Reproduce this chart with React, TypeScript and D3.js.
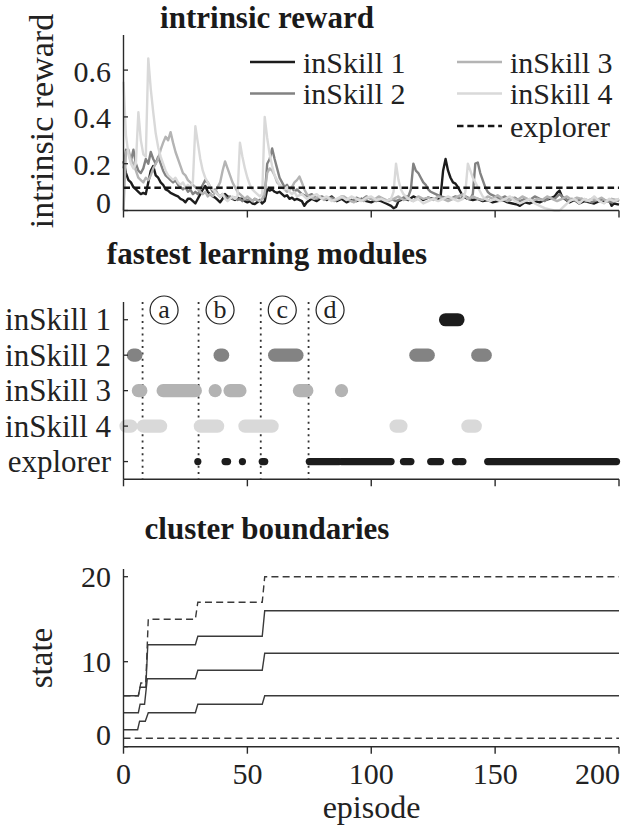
import React from 'react';
import * as d3 from 'd3';

// ---------- data ----------
const episodeTicks = [0, 50, 100, 150, 200];
const rewardTicks = [0, 0.2, 0.4, 0.6];
const stateTicks = [0, 10, 20];
const modules = ['inSkill 1', 'inSkill 2', 'inSkill 3', 'inSkill 4', 'explorer'];
const seriesNames = ['inSkill 1', 'inSkill 2', 'inSkill 3', 'inSkill 4'];
const seriesColors = ['#1c1c1c', '#828282', '#b4b4b4', '#d9d9d9'];
const explorerColor = '#161616';

const explorerReward: number[][] = [[0, 0.097], [200, 0.097]];

const inSkill1Reward: number[][] = [
  [0,0.21],[1,0.16],[2,0.13],[3,0.12],[4,0.1],[5,0.09],[6,0.08],[7,0.07],[8,0.075],[9,0.07],[10,0.12],[11,0.17],[12,0.19],[13,0.15],[14,0.14],[15,0.12],[16,0.11],[17,0.09],[18,0.085],[19,0.075],[20,0.07],[21,0.065],[22,0.06],[23,0.05],[24,0.045],[25,0.035],[26,0.05],[27,0.05],[28,0.04],[29,0.03],[30,0.05],[31,0.07],[32,0.09],[33,0.105],[34,0.08],[35,0.07],[36,0.06],[37,0.055],[38,0.045],[39,0.035],[40,0.05],[41,0.07],[42,0.06],[43,0.055],[44,0.05],[45,0.045],[46,0.055],[47,0.05],[48,0.05],[49,0.04],[50,0.035],[51,0.04],[52,0.03],[53,0.028],[54,0.035],[55,0.045],[56,0.03],[57,0.04],[58,0.09],[59,0.085],[60,0.09],[61,0.08],[62,0.075],[63,0.08],[64,0.07],[65,0.06],[66,0.065],[67,0.05],[68,0.055],[69,0.045],[70,0.05],[72,0.04],[73,0.02],[74,0.035],[76,0.05],[78,0.04],[80,0.055],[82,0.045],[84,0.06],[86,0.04],[88,0.05],[90,0.035],[92,0.045],[94,0.04],[96,0.05],[98,0.04],[100,0.035],[102,0.045],[104,0.04],[106,0.03],[108,0.02],[109,0.01],[110,0.015],[111,0.04],[113,0.05],[115,0.045],[117,0.06],[119,0.05],[121,0.045],[123,0.055],[125,0.05],[127,0.045],[128,0.06],[129,0.17],[130,0.22],[131,0.17],[132,0.14],[133,0.12],[134,0.115],[135,0.1],[136,0.08],[137,0.06],[139,0.05],[141,0.045],[143,0.05],[145,0.04],[147,0.045],[149,0.035],[151,0.04],[153,0.045],[155,0.035],[157,0.03],[159,0.025],[160,0.02],[162,0.035],[164,0.03],[166,0.04],[168,0.035],[170,0.045],[172,0.05],[174,0.06],[175,0.075],[176,0.085],[177,0.06],[178,0.05],[180,0.035],[182,0.045],[184,0.03],[186,0.04],[188,0.035],[190,0.03],[192,0.04],[194,0.035],[196,0.045],[197,0.02],[198,0.03],[200,0.025]
];

const inSkill2Reward: number[][] = [
  [0,0.18],[1,0.26],[2,0.25],[3,0.21],[4,0.26],[5,0.2],[6,0.17],[7,0.16],[8,0.18],[9,0.22],[10,0.2],[11,0.25],[12,0.22],[13,0.2],[14,0.23],[15,0.2],[16,0.17],[17,0.15],[18,0.14],[19,0.13],[20,0.12],[21,0.13],[22,0.11],[23,0.1],[24,0.09],[25,0.1],[26,0.08],[27,0.09],[28,0.07],[29,0.08],[30,0.07],[31,0.09],[32,0.11],[33,0.13],[34,0.12],[35,0.1],[36,0.08],[37,0.09],[38,0.07],[39,0.06],[40,0.07],[41,0.06],[42,0.05],[43,0.06],[44,0.05],[45,0.055],[46,0.045],[47,0.05],[48,0.04],[49,0.05],[50,0.045],[51,0.05],[52,0.04],[53,0.05],[54,0.045],[55,0.04],[56,0.05],[57,0.06],[58,0.2],[59,0.22],[60,0.265],[61,0.22],[62,0.18],[63,0.14],[64,0.12],[65,0.1],[66,0.11],[67,0.09],[68,0.1],[69,0.08],[70,0.09],[72,0.07],[74,0.06],[76,0.07],[78,0.05],[80,0.06],[82,0.05],[84,0.055],[86,0.045],[88,0.06],[90,0.05],[92,0.04],[94,0.055],[96,0.045],[98,0.06],[100,0.05],[102,0.04],[104,0.05],[106,0.04],[108,0.05],[110,0.04],[112,0.05],[114,0.06],[115,0.06],[116,0.09],[117,0.2],[118,0.17],[119,0.16],[120,0.14],[121,0.12],[122,0.11],[123,0.09],[124,0.08],[126,0.07],[128,0.06],[130,0.055],[132,0.05],[134,0.06],[136,0.05],[138,0.06],[140,0.05],[141,0.07],[142,0.2],[143,0.205],[144,0.16],[145,0.13],[146,0.1],[147,0.08],[148,0.07],[150,0.06],[152,0.05],[154,0.06],[156,0.045],[158,0.055],[160,0.04],[162,0.05],[164,0.045],[166,0.06],[168,0.05],[170,0.04],[172,0.055],[174,0.05],[176,0.07],[177,0.06],[179,0.045],[181,0.05],[183,0.04],[185,0.05],[187,0.045],[189,0.035],[191,0.045],[193,0.05],[195,0.04],[197,0.035],[199,0.045],[200,0.04]
];

const inSkill3Reward: number[][] = [
  [0,0.0],[1,0.25],[2,0.26],[3,0.22],[4,0.2],[5,0.17],[6,0.14],[7,0.13],[8,0.12],[9,0.14],[10,0.13],[11,0.15],[12,0.18],[13,0.2],[14,0.22],[15,0.26],[16,0.29],[17,0.315],[18,0.3],[19,0.335],[20,0.29],[21,0.25],[22,0.22],[23,0.19],[24,0.16],[25,0.15],[26,0.13],[27,0.12],[28,0.11],[29,0.1],[30,0.09],[31,0.08],[32,0.07],[33,0.08],[34,0.06],[35,0.07],[36,0.06],[37,0.08],[38,0.1],[39,0.12],[40,0.17],[41,0.21],[42,0.18],[43,0.15],[44,0.12],[45,0.1],[46,0.08],[47,0.07],[48,0.06],[49,0.05],[50,0.06],[51,0.05],[52,0.04],[53,0.05],[54,0.045],[55,0.04],[56,0.05],[57,0.08],[58,0.16],[59,0.18],[60,0.17],[61,0.15],[62,0.12],[63,0.11],[64,0.1],[65,0.09],[66,0.08],[67,0.09],[68,0.1],[69,0.12],[70,0.13],[71,0.145],[72,0.12],[73,0.09],[74,0.07],[75,0.06],[77,0.05],[79,0.06],[81,0.045],[83,0.055],[85,0.04],[87,0.05],[89,0.06],[91,0.045],[93,0.035],[95,0.05],[97,0.04],[99,0.055],[101,0.045],[103,0.06],[105,0.05],[107,0.04],[109,0.05],[111,0.06],[113,0.045],[115,0.05],[117,0.04],[119,0.06],[121,0.05],[123,0.055],[125,0.045],[127,0.06],[129,0.05],[131,0.04],[133,0.05],[135,0.06],[137,0.07],[139,0.05],[141,0.06],[143,0.05],[145,0.045],[147,0.06],[149,0.05],[151,0.065],[153,0.05],[155,0.04],[157,0.055],[159,0.045],[161,0.06],[163,0.05],[165,0.04],[167,0.05],[169,0.045],[171,0.06],[173,0.05],[175,0.04],[177,0.05],[179,0.06],[181,0.045],[183,0.055],[185,0.05],[187,0.04],[189,0.05],[191,0.045],[193,0.055],[195,0.04],[197,0.05],[199,0.045],[200,0.05]
];

const inSkill4Reward: number[][] = [
  [0,0.55],[1,0.32],[2,0.24],[3,0.2],[4,0.18],[5,0.2],[6,0.42],[7,0.3],[8,0.24],[9,0.23],[10,0.65],[11,0.52],[12,0.42],[13,0.33],[14,0.27],[15,0.23],[16,0.2],[17,0.17],[18,0.15],[19,0.14],[20,0.13],[21,0.14],[22,0.12],[23,0.11],[24,0.12],[25,0.1],[26,0.11],[27,0.1],[28,0.12],[29,0.36],[30,0.29],[31,0.22],[32,0.17],[33,0.14],[34,0.12],[35,0.1],[36,0.09],[37,0.08],[38,0.07],[39,0.06],[40,0.07],[41,0.05],[42,0.04],[43,0.05],[44,0.06],[45,0.05],[46,0.06],[47,0.29],[48,0.23],[49,0.18],[50,0.14],[51,0.11],[52,0.09],[53,0.08],[54,0.07],[55,0.06],[56,0.07],[57,0.4],[58,0.31],[59,0.24],[60,0.19],[61,0.15],[62,0.13],[63,0.11],[64,0.1],[65,0.09],[66,0.1],[67,0.08],[68,0.07],[69,0.08],[70,0.06],[72,0.07],[74,0.05],[76,0.06],[78,0.07],[80,0.05],[82,0.06],[84,0.04],[86,0.05],[88,0.06],[90,0.045],[92,0.06],[94,0.05],[96,0.04],[98,0.055],[100,0.06],[102,0.045],[104,0.05],[106,0.04],[108,0.05],[109,0.08],[110,0.2],[111,0.13],[112,0.09],[113,0.07],[115,0.05],[117,0.04],[119,0.05],[121,0.03],[123,0.04],[125,0.05],[127,0.04],[129,0.05],[131,0.06],[133,0.05],[135,0.04],[137,0.05],[138,0.08],[139,0.2],[140,0.17],[141,0.14],[142,0.12],[143,0.1],[144,0.08],[145,0.06],[146,0.05],[148,0.04],[150,0.05],[152,0.04],[154,0.05],[156,0.06],[158,0.04],[160,0.03],[162,0.04],[164,0.05],[166,0.03],[168,0.02],[170,0.01],[172,0.005],[174,0.0],[176,0.0],[178,0.02],[180,0.04],[182,0.05],[184,0.03],[186,0.05],[188,0.04],[190,0.06],[192,0.04],[194,0.03],[196,0.05],[198,0.04],[200,0.05]
];

const rewardSeries = [inSkill1Reward, inSkill2Reward, inSkill3Reward, inSkill4Reward];

// fastest-learning module: runs of episodes [start, end]
const inSkill1Runs: number[][] = [[130, 135]];
const inSkill2Runs: number[][] = [[4, 5], [39, 40], [61, 70], [118, 123], [143, 146]];
const inSkill3Runs: number[][] = [[6, 7], [16, 29], [37, 37], [43, 47], [71, 74], [88, 88]];
const inSkill4Runs: number[][] = [[1, 3], [8, 15], [31, 38], [49, 60], [110, 112], [139, 142]];
const explorerRuns: number[][] = [[30, 30], [41, 42], [48, 48], [56, 57], [75, 87], [88, 108], [113, 116], [124, 128], [134, 135], [136, 137], [147, 199]];
const moduleRuns = [inSkill1Runs, inSkill2Runs, inSkill3Runs, inSkill4Runs, explorerRuns];
const moduleColors = ['#1c1c1c', '#838383', '#b3b3b3', '#d9d9d9', '#1c1c1c'];

const phaseEpisodes = [7.7, 30.3, 55.4, 74.7];
const phaseLabels = ['a', 'b', 'c', 'd'];

// cluster boundaries [episode, state]
const boundaryUpper: number[][] = [[0,6],[6,6],[7,7.5],[9,7.5],[10,15],[29,15],[30,17],[56,17],[57,20],[200,20]];
const boundary3: number[][] = [[0,6],[6,6],[6.7,7],[9,7],[9.8,12],[29,12],[30,13],[56,13],[57,16],[200,16]];
const boundary2: number[][] = [[0,4],[6,4],[6.7,5],[8.5,5],[9.6,8],[29,8],[30,9],[56,9],[57,11],[200,11]];
const boundary1: number[][] = [[0,2],[5.7,2],[6.5,3],[8.8,3],[10,4],[29,4],[30,5],[56,5],[57,6],[200,6]];
const boundaryLower: number[][] = [[0,1],[200,1]];

// ---------- drawing ----------
const FONT = "'Liberation Serif', 'DejaVu Serif', serif";
const AX = '#2a2a2a';

const T = (props: any) => {
  const { style, ...rest } = props;
  return <text {...rest} style={{ fontFamily: FONT, ...(style || {}) }} />;
};

export default function App() {
  const x = d3.scaleLinear().domain([0, 200]).range([123.5, 619]);
  const yR = d3.scaleLinear().domain([0, 0.75]).range([210.5, 35]);
  const yM = d3.scalePoint<string>().domain(modules).range([302, 479.3]).padding(0.5);
  const yS = d3.scaleLinear().domain([0, 20]).range([746.7, 576.7]);
  const sTop = yS.invert(569);

  const rLine = d3.line<number[]>().x(d => x(d[0])).y(d => yR(d[1]));
  const sLine = d3.line<number[]>().x(d => x(d[0])).y(d => yS(d[1]));

  const xAxis = (y: number, labels: boolean) => (
    <g>
      <line x1={x(0)} x2={x(200)} y1={y} y2={y} stroke={AX} strokeWidth={1.4} />
      {episodeTicks.map((t, i) => {
        const last = i === episodeTicks.length - 1;
        return (
          <g key={t}>
            <line x1={x(t)} x2={x(t)} y1={y} y2={y + 7} stroke={AX} strokeWidth={1.4} />
            {labels && (
              <T x={last ? x(t) + 1 : x(t)} y={y + 37} textAnchor={last ? 'end' : 'middle'} fontSize={30} fill="#222">{t}</T>
            )}
          </g>
        );
      })}
    </g>
  );

  const yAxisLine = (y0: number, y1: number) => (
    <line x1={x(0)} x2={x(0)} y1={y0} y2={y1} stroke={AX} strokeWidth={1.4} />
  );

  const legendItems = [...seriesNames, 'explorer'];

  return (
    <svg width={624} height={828} style={{ position: 'absolute', left: 0, top: 0, background: '#fff' }}>
      <rect width={624} height={828} fill="#fff" />

      {/* ---------- panel 1: intrinsic reward ---------- */}
      <T x={267} y={28} textAnchor="middle" fontWeight="bold" fontSize={31} fill="#1a1a1a">intrinsic reward</T>
      <T transform={`translate(53,121) rotate(-90)`} textAnchor="middle" fontSize={34} fill="#222">intrinsic reward</T>
      {rewardSeries.map((s, i) => (
        <path key={i} d={rLine(s) || ''} fill="none" stroke={seriesColors[i]} strokeWidth={2.4} strokeLinejoin="round" />
      ))}
      <path d={rLine(explorerReward) || ''} fill="none" stroke={explorerColor} strokeWidth={2.4} strokeDasharray="6.5,3.8" />
      {yAxisLine(yR(0.75), yR(0))}
      {rewardTicks.map(t => (
        <g key={t}>
          <line x1={x(0)} x2={x(0) + 4.5} y1={yR(t)} y2={yR(t)} stroke={AX} strokeWidth={1.3} />
          <T x={111} y={yR(t) + (t === 0 ? 2.5 : 11.5)} textAnchor="end" fontSize={30} fill="#222">{t === 0 ? '0' : String(t)}</T>
        </g>
      ))}
      {xAxis(yR(0), false)}
      {legendItems.map((name, i) => {
        const col = i < 2 ? 0 : 1;
        const row = i < 2 ? i : i - 2;
        const lx = col === 0 ? 250 : 457;
        const ly = [62, 93.5, 126][row];
        const isExp = name === 'explorer';
        return (
          <g key={name}>
            <line x1={lx} x2={lx + 45} y1={ly} y2={ly} stroke={isExp ? explorerColor : seriesColors[i]} strokeWidth={2.6} strokeDasharray={isExp ? '6.5,3.8' : undefined} />
            <T x={lx + 53} y={ly + 10.5} fontSize={30} fill="#222">{name}</T>
          </g>
        );
      })}

      {/* ---------- panel 2: fastest learning modules ---------- */}
      <T x={267} y={264} textAnchor="middle" fontWeight="bold" fontSize={31} fill="#1a1a1a">fastest learning modules</T>
      {phaseEpisodes.map((p, i) => (
        <g key={i}>
          <line x1={x(p)} x2={x(p)} y1={302} y2={479.3} stroke="#333" strokeWidth={1.8} strokeDasharray="2,4.3" />
          <circle cx={x(p) + 21.5} cy={310} r={14} fill="#fff" stroke="#222" strokeWidth={1.2} />
          <T x={x(p) + 21.5} y={317.5} textAnchor="middle" fontSize={26} fill="#222">{phaseLabels[i]}</T>
        </g>
      ))}
      {moduleRuns.map((runs, mi) => {
        const r = mi === 4 ? 3.6 : 6.6;
        const cy = yM(modules[mi]) as number;
        return runs.map((run, k) => (
          <rect key={`${mi}-${k}`} x={x(run[0]) - r} y={cy - r} width={x(run[1]) - x(run[0]) + 2 * r} height={2 * r} rx={r} ry={r} fill={moduleColors[mi]} />
        ));
      })}
      {yAxisLine(302, 479.3)}
      {modules.map(m => (
        <g key={m}>
          <line x1={x(0)} x2={x(0) + 4.5} y1={yM(m) as number} y2={yM(m) as number} stroke={AX} strokeWidth={1.3} />
          <T x={111} y={(yM(m) as number) + 10.5} textAnchor="end" fontSize={31} fill="#222">{m}</T>
        </g>
      ))}
      {xAxis(479.3, false)}

      {/* ---------- panel 3: cluster boundaries ---------- */}
      <T x={267} y={539} textAnchor="middle" fontWeight="bold" fontSize={31} fill="#1a1a1a">cluster boundaries</T>
      <T transform={`translate(52,658) rotate(-90)`} textAnchor="middle" fontSize={33} fill="#222">state</T>
      {[boundary1, boundary2, boundary3].map((b, i) => (
        <path key={i} d={sLine(b) || ''} fill="none" stroke="#3a3a3a" strokeWidth={1.4} />
      ))}
      {[boundaryLower, boundaryUpper].map((b, i) => (
        <path key={i} d={sLine(b) || ''} fill="none" stroke="#3a3a3a" strokeWidth={1.4} strokeDasharray="7,4.2" />
      ))}
      {yAxisLine(yS(sTop), yS(0))}
      {stateTicks.map(t => (
        <g key={t}>
          <line x1={x(0)} x2={x(0) + 4.5} y1={yS(t)} y2={yS(t)} stroke={AX} strokeWidth={1.3} />
          <T x={111} y={yS(t) + (t === 0 ? -1.5 : 10.5)} textAnchor="end" fontSize={30} fill="#222">{t}</T>
        </g>
      ))}
      {xAxis(yS(0), true)}
      <T x={371.5} y={818} textAnchor="middle" fontSize={32} fill="#222">episode</T>
    </svg>
  );
}
